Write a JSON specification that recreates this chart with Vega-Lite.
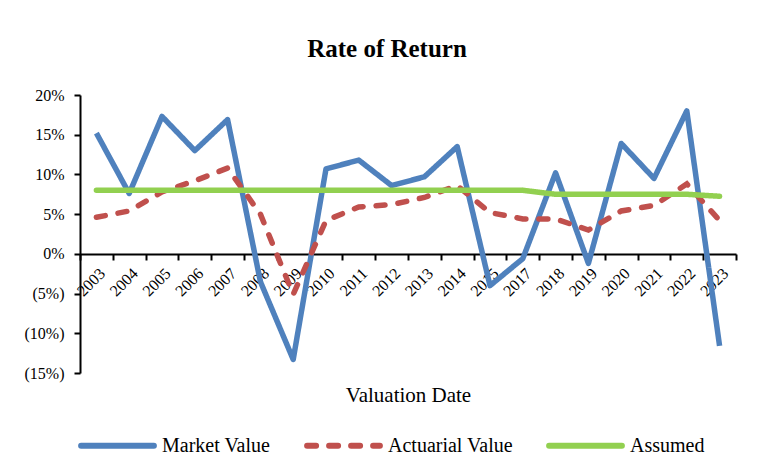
{
  "$schema": "https://vega.github.io/schema/vega-lite/v6.json",
  "width": 656,
  "height": 278,
  "autosize": {"type": "none"},
  "padding": {"left": 80, "top": 95, "right": 21, "bottom": 87},
  "background": "white",
  "config": {
    "font": "Liberation Serif",
    "view": {"stroke": null},
    "legend": {
      "orient": "none",
      "legendX": -2,
      "legendY": 311,
      "direction": "horizontal",
      "title": null,
      "symbolType": "stroke",
      "symbolSize": 5300,
      "symbolStrokeWidth": 6,
      "labelFont": "Liberation Serif",
      "labelFontSize": 20,
      "labelColor": "black",
      "labelOffset": 5,
      "columnPadding": 24,
      "labelLimit": 300
    }
  },
  "title": {
    "text": "Rate of Return",
    "font": "Liberation Serif",
    "fontSize": 25,
    "fontWeight": "bold",
    "color": "black",
    "anchor": "middle",
    "frame": "group",
    "baseline": "alphabetic",
    "dx": -21,
    "offset": 5
  },
  "data": {
    "values": [
      {"year": "2003", "series": "Market Value", "value": 15.2},
      {"year": "2004", "series": "Market Value", "value": 7.6},
      {"year": "2005", "series": "Market Value", "value": 17.3},
      {"year": "2006", "series": "Market Value", "value": 13.0},
      {"year": "2007", "series": "Market Value", "value": 16.9},
      {"year": "2008", "series": "Market Value", "value": -3.5},
      {"year": "2009", "series": "Market Value", "value": -13.3},
      {"year": "2010", "series": "Market Value", "value": 10.7},
      {"year": "2011", "series": "Market Value", "value": 11.8},
      {"year": "2012", "series": "Market Value", "value": 8.6},
      {"year": "2013", "series": "Market Value", "value": 9.7},
      {"year": "2014", "series": "Market Value", "value": 13.5},
      {"year": "2015", "series": "Market Value", "value": -4.0},
      {"year": "2017", "series": "Market Value", "value": -0.6},
      {"year": "2018", "series": "Market Value", "value": 10.2},
      {"year": "2019", "series": "Market Value", "value": -1.2},
      {"year": "2020", "series": "Market Value", "value": 13.9},
      {"year": "2021", "series": "Market Value", "value": 9.5},
      {"year": "2022", "series": "Market Value", "value": 18.0},
      {"year": "2023", "series": "Market Value", "value": -11.6},
      {"year": "2003", "series": "Actuarial Value", "value": 4.6},
      {"year": "2004", "series": "Actuarial Value", "value": 5.4},
      {"year": "2005", "series": "Actuarial Value", "value": 7.8},
      {"year": "2006", "series": "Actuarial Value", "value": 9.2},
      {"year": "2007", "series": "Actuarial Value", "value": 10.8},
      {"year": "2008", "series": "Actuarial Value", "value": 5.0},
      {"year": "2009", "series": "Actuarial Value", "value": -5.1},
      {"year": "2010", "series": "Actuarial Value", "value": 4.2},
      {"year": "2011", "series": "Actuarial Value", "value": 5.9},
      {"year": "2012", "series": "Actuarial Value", "value": 6.2},
      {"year": "2013", "series": "Actuarial Value", "value": 7.1},
      {"year": "2014", "series": "Actuarial Value", "value": 8.6},
      {"year": "2015", "series": "Actuarial Value", "value": 5.2},
      {"year": "2017", "series": "Actuarial Value", "value": 4.4},
      {"year": "2018", "series": "Actuarial Value", "value": 4.4},
      {"year": "2019", "series": "Actuarial Value", "value": 3.0},
      {"year": "2020", "series": "Actuarial Value", "value": 5.4},
      {"year": "2021", "series": "Actuarial Value", "value": 6.1},
      {"year": "2022", "series": "Actuarial Value", "value": 8.8},
      {"year": "2023", "series": "Actuarial Value", "value": 4.2},
      {"year": "2003", "series": "Assumed", "value": 8.0},
      {"year": "2004", "series": "Assumed", "value": 8.0},
      {"year": "2005", "series": "Assumed", "value": 8.0},
      {"year": "2006", "series": "Assumed", "value": 8.0},
      {"year": "2007", "series": "Assumed", "value": 8.0},
      {"year": "2008", "series": "Assumed", "value": 8.0},
      {"year": "2009", "series": "Assumed", "value": 8.0},
      {"year": "2010", "series": "Assumed", "value": 8.0},
      {"year": "2011", "series": "Assumed", "value": 8.0},
      {"year": "2012", "series": "Assumed", "value": 8.0},
      {"year": "2013", "series": "Assumed", "value": 8.0},
      {"year": "2014", "series": "Assumed", "value": 8.0},
      {"year": "2015", "series": "Assumed", "value": 8.0},
      {"year": "2017", "series": "Assumed", "value": 8.0},
      {"year": "2018", "series": "Assumed", "value": 7.5},
      {"year": "2019", "series": "Assumed", "value": 7.5},
      {"year": "2020", "series": "Assumed", "value": 7.5},
      {"year": "2021", "series": "Assumed", "value": 7.5},
      {"year": "2022", "series": "Assumed", "value": 7.5},
      {"year": "2023", "series": "Assumed", "value": 7.25}
    ]
  },
  "encoding": {
    "x": {
      "field": "year",
      "type": "ordinal",
      "bandPosition": 0.5,
      "scale": {"type": "band", "paddingInner": 0, "paddingOuter": 0},
      "axis": {
        "title": "Valuation Date",
        "titleFont": "Liberation Serif",
        "titleFontSize": 21,
        "titleFontWeight": "normal",
        "titleColor": "black",
        "titleBaseline": "alphabetic",
        "titleY": 147,
        "offset": -119,
        "tickBand": "extent",
        "tickSize": 6,
        "tickWidth": 2,
        "tickColor": "black",
        "domainColor": "black",
        "domainWidth": 2,
        "labelAngle": -45,
        "labelAlign": "right",
        "labelBaseline": "top",
        "labelPadding": 5,
        "labelFont": "Liberation Serif",
        "labelFontSize": 16,
        "labelColor": "black",
        "labelOverlap": false,
        "labelFlush": false,
        "grid": false
      }
    },
    "y": {
      "field": "value",
      "type": "quantitative",
      "scale": {"domain": [-15, 20], "nice": false, "zero": false},
      "axis": {
        "title": null,
        "values": [-15, -10, -5, 0, 5, 10, 15, 20],
        "labelExpr": "datum.value < 0 ? '(' + (-datum.value) + '%)' : datum.value + '%'",
        "grid": false,
        "domainColor": "black",
        "domainWidth": 2,
        "tickColor": "black",
        "tickWidth": 2,
        "tickSize": 6,
        "labelFont": "Liberation Serif",
        "labelFontSize": 16,
        "labelColor": "black",
        "labelPadding": 10
      }
    },
    "color": {
      "field": "series",
      "type": "nominal",
      "scale": {
        "domain": ["Market Value", "Actuarial Value", "Assumed"],
        "range": ["#4F81BD", "#C0504D", "#92D050"]
      },
      "legend": {
        "encode": {
          "symbols": {"update": {"strokeCap": {"value": "round"}}}
        }
      }
    },
    "strokeDash": {
      "field": "series",
      "type": "nominal",
      "scale": {
        "domain": ["Market Value", "Actuarial Value", "Assumed"],
        "range": [[1, 0], [9, 13], [1, 0]]
      },
      "legend": {
        "encode": {
          "symbols": {"update": {"strokeCap": {"value": "round"}}}
        }
      }
    }
  },
  "layer": [
    {
      "transform": [{"filter": "datum.series === 'Market Value'"}],
      "mark": {"type": "line", "strokeWidth": 5.5, "strokeJoin": "round"}
    },
    {
      "transform": [{"filter": "datum.series === 'Actuarial Value'"}],
      "mark": {"type": "line", "strokeWidth": 5.5, "strokeCap": "round"}
    },
    {
      "transform": [{"filter": "datum.series === 'Assumed'"}],
      "mark": {"type": "line", "strokeWidth": 5.5, "strokeCap": "round"}
    }
  ]
}
